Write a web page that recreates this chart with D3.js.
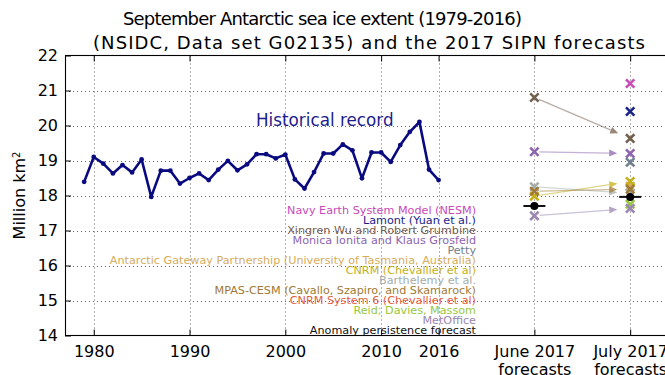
<!DOCTYPE html>
<html>
<head>
<meta charset="utf-8">
<script src="https://cdn.jsdelivr.net/npm/d3@7/dist/d3.min.js"></script>
<style>
  html, body { margin: 0; padding: 0; background: #fff; }
  svg { display: block; font-family: "DejaVu Sans", sans-serif; }
</style>
</head>
<body>
<svg id="chart" width="665" height="375"></svg>
<script>
// September Antarctic sea ice extent, million km² (NSIDC G02135)
const years = d3.range(1979, 2017);
const extent = [
  18.39, 19.10, 18.91, 18.63, 18.87, 18.66, 19.03, 17.96, 18.71, 18.71,
  18.34, 18.50, 18.63, 18.44, 18.74, 18.99, 18.72, 18.89, 19.18, 19.18,
  19.06, 19.17, 18.46, 18.20, 18.67, 19.20, 19.20, 19.46, 19.29, 18.49,
  19.23, 19.23, 18.96, 19.44, 19.82, 20.10, 18.74, 18.44
];

// SIPN 2017 forecast contributors (null = no forecast submitted that month)
const modelNames = [
  "Navy Earth System Model (NESM)",
  "Lamont (Yuan et al.)",
  "Xingren Wu and Robert Grumbine",
  "Monica Ionita and Klaus Grosfeld",
  "Petty",
  "Antarctic Gateway Partnership (University of Tasmania, Australia)",
  "CNRM (Chevallier et al)",
  "Barthelemy et al.",
  "MPAS-CESM (Cavallo, Szapiro, and Skamarock)",
  "CNRM System 6 (Chevallier et al)",
  "Reid; Davies, Massom",
  "MetOffice",
  "Anomaly persistence forecast"
];
const modelColors = [
  "#c94ab8", "#1a2488", "#74604f", "#8c64b0", "#71808f", "#d6ac5c",
  "#c4b018", "#a3aeab", "#a07a34", "#e0603c", "#96c83c", "#9a86b0", "#111111"
];
const juneForecast = [null, null, 20.80, 19.25, null, null, 17.98, 18.25, 18.12, null, null, 17.42, 17.70];
const julyForecast = [21.20, 20.40, 19.63, 19.20, 18.95, 18.26, 18.40, 18.06, 18.18, null, 17.75, 17.63, 17.96];

// Axis ticks
const xTickValues = [1980, 1990, 2000, 2010, 2016, 2026, 2036];
const xTickLabels = ["1980", "1990", "2000", "2010", "2016", "June 2017|forecasts", "July 2017|forecasts"];
const yTickValues = [14, 15, 16, 17, 18, 19, 20, 21, 22];
const juneX = 2026, julyX = 2036;

const svg = d3.select("#chart");
const pLeft = 65, pRight = 668.5, pTop = 55.5, pBottom = 335.5;

const x = d3.scaleLinear().domain([1977, 2040]).range([pLeft, pRight]);
const y = d3.scaleLinear().domain([14, 22]).range([pBottom, pTop]);

// Grid
const grid = svg.append("g").attr("stroke", "#666").attr("stroke-width", 1)
  .attr("stroke-dasharray", "1,3");
xTickValues.forEach(v => grid.append("line")
  .attr("x1", Math.round(x(v)) + 0.5).attr("x2", Math.round(x(v)) + 0.5)
  .attr("y1", pTop).attr("y2", pBottom));
yTickValues.slice(1, -1).forEach(v => grid.append("line")
  .attr("x1", pLeft).attr("x2", pRight)
  .attr("y1", Math.round(y(v)) + 0.5).attr("y2", Math.round(y(v)) + 0.5));

// Axes with inward ticks
const tickFont = "16px";
const xAxis = d3.axisBottom(x).tickValues(xTickValues).tickSizeInner(-6).tickSizeOuter(0)
  .tickFormat((d, i) => xTickLabels[i]);
const gx = svg.append("g").attr("transform", `translate(0,${pBottom})`).call(xAxis);
gx.select(".domain").remove();
gx.selectAll(".tick text").each(function(d, i) {
  const t = d3.select(this);
  const parts = xTickLabels[i].split("|");
  t.text(null).attr("y", 6).attr("dy", null);
  parts.forEach((p, k) => t.append("tspan").attr("x", 0).attr("dy", k === 0 ? "0.95em" : "1.12em").text(p));
});
gx.selectAll("text").attr("font-size", tickFont).attr("font-family", "DejaVu Sans").attr("fill", "#000");

const gxTop = svg.append("g").attr("transform", `translate(0,${pTop})`)
  .call(d3.axisTop(x).tickValues(xTickValues).tickSizeInner(-6).tickSizeOuter(0).tickFormat(""));
gxTop.select(".domain").remove();

const yAxis = d3.axisLeft(y).tickValues(yTickValues).tickSizeInner(-6).tickSizeOuter(0).tickPadding(7);
const gy = svg.append("g").attr("transform", `translate(${pLeft},0)`).call(yAxis);
gy.select(".domain").remove();
gy.selectAll("text").attr("font-size", tickFont).attr("font-family", "DejaVu Sans").attr("fill", "#000");

// Frame
svg.append("rect").attr("x", pLeft + 0.5).attr("y", pTop).attr("width", pRight - pLeft)
  .attr("height", pBottom - pTop).attr("fill", "none").attr("stroke", "#000").attr("stroke-width", 1.1);

// Y label
const yl = svg.append("text").attr("transform", `translate(25,${(pTop + pBottom) / 2}) rotate(-90)`)
  .attr("text-anchor", "middle").attr("font-size", "16px").attr("fill", "#000");
yl.append("tspan").text("Million km");
yl.append("tspan").attr("dy", "-0.55em").attr("font-size", "10px").text("2");

// Title (two lines)
svg.append("text").attr("x", 322.5).attr("y", 25).attr("text-anchor", "middle")
  .attr("font-size", "18px").attr("fill", "#000")
  .attr("textLength", 399).attr("lengthAdjust", "spacing")
  .text("September Antarctic sea ice extent (1979-2016)");
svg.append("text").attr("x", 369).attr("y", 49).attr("text-anchor", "middle")
  .attr("font-size", "18px").attr("fill", "#000")
  .attr("textLength", 552).attr("lengthAdjust", "spacing")
  .text("(NSIDC, Data set G02135) and the 2017 SIPN forecasts");

// Historical record line
const navy = "#0a0a80";
svg.append("path").datum(years.map((yr, i) => [yr, extent[i]]))
  .attr("fill", "none").attr("stroke", navy).attr("stroke-width", 2.6)
  .attr("stroke-linejoin", "round")
  .attr("d", d3.line().x(d => x(d[0])).y(d => y(d[1])));
svg.append("g").selectAll("circle").data(years.map((yr, i) => [yr, extent[i]])).join("circle")
  .attr("cx", d => x(d[0])).attr("cy", d => y(d[1])).attr("r", 2.4).attr("fill", navy);

svg.append("text").attr("x", 256).attr("y", 126).attr("font-size", "16.8px").attr("fill", "#1c1c8c")
  .text("Historical record");

// Forecast arrows (June -> July)
const arrows = svg.append("g");
modelNames.forEach((name, i) => {
  const j = juneForecast[i], k = julyForecast[i];
  if (j == null || k == null || i === modelNames.length - 1) return;
  const x0 = x(juneX), y0 = y(j), x1 = x(julyX), y1 = y(k);
  const dx = x1 - x0, dy = y1 - y0, len = Math.hypot(dx, dy);
  const ux = dx / len, uy = dy / len;
  const tipX = x1 - ux * 13, tipY = y1 - uy * 13;
  const baseX = tipX - ux * 8, baseY = tipY - uy * 8;
  arrows.append("line").attr("x1", x0 + ux * 5).attr("y1", y0 + uy * 5)
    .attr("x2", baseX).attr("y2", baseY)
    .attr("stroke", modelColors[i]).attr("stroke-width", 1.3).attr("opacity", 0.5);
  arrows.append("path")
    .attr("d", `M${tipX},${tipY}L${baseX - uy * 3.5},${baseY + ux * 3.5}L${baseX + uy * 3.5},${baseY - ux * 3.5}Z`)
    .attr("fill", modelColors[i]).attr("opacity", 0.75);
});

// Forecast markers
const marks = svg.append("g");
function cross(cx, cy, color) {
  const s = 4.2;
  marks.append("path")
    .attr("d", `M${cx - s},${cy - s}L${cx + s},${cy + s}M${cx - s},${cy + s}L${cx + s},${cy - s}`)
    .attr("stroke", color).attr("stroke-width", 2.6).attr("fill", "none");
}
modelNames.forEach((name, i) => {
  const last = i === modelNames.length - 1;
  [[juneX, juneForecast[i]], [julyX, julyForecast[i]]].forEach(([mx, v]) => {
    if (v == null) return;
    if (last) {
      marks.append("line").attr("x1", x(mx) - 11).attr("x2", x(mx) + 11)
        .attr("y1", y(v)).attr("y2", y(v)).attr("stroke", "#111").attr("stroke-width", 2);
      marks.append("circle").attr("cx", x(mx)).attr("cy", y(v)).attr("r", 4).attr("fill", "#000");
    } else {
      cross(x(mx), y(v), modelColors[i]);
    }
  });
});

// Model legend, right aligned
svg.append("g").selectAll("text").data(modelNames).join("text")
  .attr("x", 476).attr("y", (d, i) => 214 + i * 10)
  .attr("text-anchor", "end").attr("font-size", "11.2px")
  .attr("fill", (d, i) => modelColors[i])
  .text(d => d);
</script>
</body>
</html>
